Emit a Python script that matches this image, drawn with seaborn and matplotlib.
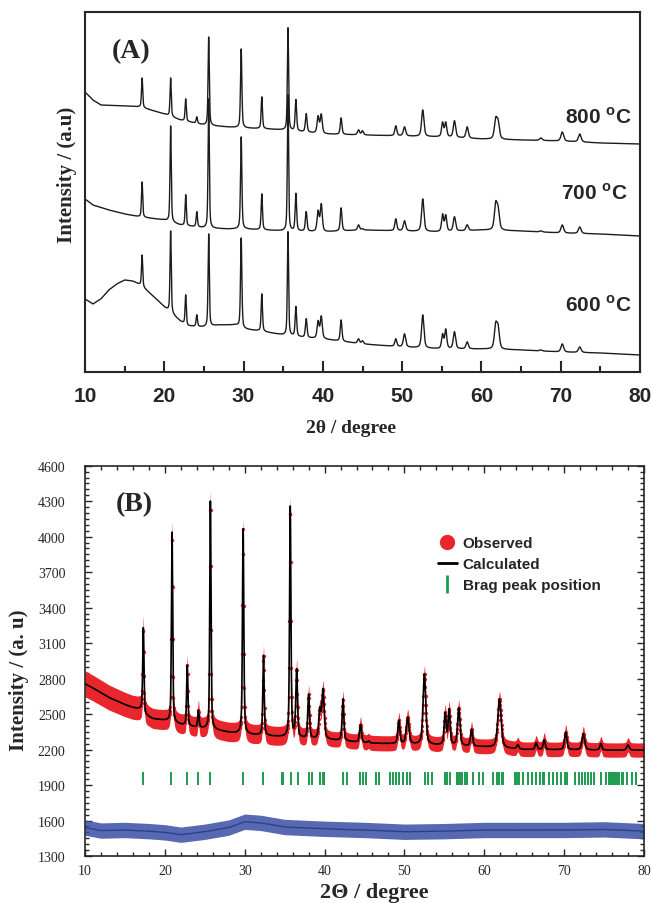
"""XRD panels: (A) calcination series 600/700/800 C, (B) Rietveld fit."""
import matplotlib

matplotlib.use("Agg")
import matplotlib.pyplot as plt
import numpy as np
import pandas as pd
import seaborn as sns
from matplotlib.lines import Line2D
from matplotlib.ticker import MultipleLocator

# ---- panel A: background anchors (2theta, a.u.) per temperature ----
bg800_x = [10, 11, 12, 15, 17, 20, 22, 25, 28, 30, 33, 35, 40, 45, 50, 55, 60, 65, 70, 75, 80]
bg800_y = [280, 272, 267, 266, 265, 258, 252, 247, 245, 244, 243, 242, 238, 237, 236, 235, 233, 232, 231, 229, 228]
bg700_x = [10, 11, 13, 15, 17, 20, 22, 25, 28, 30, 35, 40, 45, 50, 55, 60, 65, 70, 75, 80]
bg700_y = [173, 167, 162, 158, 155, 152, 147, 144, 143, 143, 141, 140, 142, 141, 140, 142, 141, 139, 138, 136]
bg600_x = [10, 11, 12, 13, 14, 15, 16, 17, 18, 19, 20, 21, 22, 23, 25, 27, 29, 30, 32, 35,
           38, 40, 45, 50, 55, 60, 65, 70, 75, 80]
bg600_y = [73, 68, 73, 82, 88, 92, 91, 87, 80, 73, 65, 58, 51, 46, 45, 47, 47, 43, 41, 37,
           34, 33, 28, 25, 23, 23, 22, 20, 19, 17]

a_pos = [17.2, 20.8, 22.7, 24.1, 25.6, 29.7, 32.3, 35.6, 36.6, 37.9, 39.4, 39.8, 42.3, 44.5,
         45.0, 49.2, 50.3, 52.6, 55.1, 55.5, 56.6, 58.2, 61.8, 62.1, 67.5, 70.2, 72.4]
a_fwhm = [0.18, 0.18, 0.18, 0.2, 0.18, 0.2, 0.2, 0.18, 0.22, 0.25, 0.3, 0.3, 0.25, 0.3,
          0.3, 0.3, 0.35, 0.35, 0.3, 0.3, 0.35, 0.35, 0.4, 0.4, 0.4, 0.4, 0.4]
top800 = [294, 294, 273, 255, 335, 323, 275, 344, 272, 258, 255, 257, 254, 242,
          241, 246, 245, 262, 249, 249, 251, 245, 251, 248, 234, 240, 238]
top700 = [190, 246, 177, 160, 273, 235, 178, 277, 178, 160, 160, 167, 164, 147,
          143, 153, 151, 173, 157, 156, 155, 147, 166, 160, 141, 147, 145]
top600 = [117, 141, 77, 57, 138, 134, 78, 140, 65, 53, 50, 55, 52, 33,
          31, 33, 38, 57, 37, 42, 40, 30, 45, 42, 22, 28, 25]
temps = ["800", "700", "600"]

# ---- panel B: Rietveld refinement (counts) ----
b_bg_x = [10, 11, 12, 13, 14, 15, 16, 17, 17.6, 18.5, 20, 22, 24, 26, 28, 30, 32, 34, 36, 38,
          40, 42, 45, 50, 55, 60, 65, 70, 75, 80]
b_bg_y = [2756, 2720, 2680, 2640, 2610, 2580, 2555, 2540, 2490, 2460, 2446, 2410, 2385, 2370,
          2345, 2330, 2320, 2310, 2300, 2290, 2285, 2275, 2255, 2245, 2235, 2222, 2200, 2198,
          2195, 2195]
b_pos = [17.3, 20.9, 22.8, 24.2, 25.7, 29.8, 32.35, 35.7, 36.5, 38.0, 39.4, 39.8, 42.3, 44.5,
         45.5, 49.3, 50.4, 52.5, 55.1, 55.6, 56.8, 58.4, 61.9, 64.2, 66.5, 67.5, 70.2, 72.4,
         74.6, 78.0]
b_top = [3230, 4037, 2910, 2528, 4300, 4065, 2995, 4250, 2867, 2661, 2517, 2698, 2627, 2410,
         2270, 2444, 2470, 2838, 2500, 2529, 2550, 2370, 2627, 2240, 2255, 2280, 2347, 2333,
         2250, 2240]
b_fwhm = [0.18, 0.18, 0.18, 0.2, 0.18, 0.2, 0.2, 0.2, 0.25, 0.25, 0.3, 0.35, 0.25, 0.3,
          0.3, 0.3, 0.4, 0.4, 0.3, 0.3, 0.35, 0.3, 0.5, 0.3, 0.3, 0.3, 0.35, 0.4, 0.3, 0.35]
# scatter half-width of observed points around the fit
obs_spread_x = [10, 17, 18, 35, 40, 80]
obs_spread = [110, 100, 85, 80, 65, 60]
# difference curve (obs - calc, offset)
diff_x = [10, 12, 15, 18, 20, 22, 25, 28, 30, 32, 35, 40, 45, 50, 55, 60, 65, 70, 75, 80]
diff_mid = [1540, 1515, 1520, 1510, 1500, 1480, 1505, 1540, 1590, 1580, 1545, 1530, 1520,
            1505, 1510, 1520, 1520, 1520, 1525, 1510]
diff_spread = 65
bragg = [17.22, 20.77, 22.81, 24.11, 25.65, 29.82, 32.33, 34.62, 34.83, 35.75, 36.71, 38.09,
         38.42, 39.42, 39.76, 39.96, 42.34, 42.76, 44.43, 44.84, 45.18, 46.43, 46.85, 48.18,
         48.6, 48.94, 49.35, 49.85, 50.28, 50.69, 52.57, 52.98, 53.41, 55.07, 55.36, 55.7,
         56.53, 56.74, 56.95, 57.16, 57.58, 57.79, 58.62, 59.33, 59.79, 61.12, 61.54, 61.87,
         62.17, 62.37, 63.84, 64.12, 64.37, 64.8, 65.45, 66.0, 66.5, 67.0, 67.3, 67.5, 68.05,
         68.6, 69.1, 69.6, 70.1, 70.4, 71.4, 71.8, 72.2, 72.6, 73.0, 73.4, 73.8, 74.6, 75.3,
         75.6, 75.9, 76.1, 76.4, 76.6, 76.9, 77.2, 77.4, 77.9, 78.5, 79.0]
b_yticks = [1300, 1600, 1900, 2200, 2500, 2800, 3100, 3400, 3700, 4000, 4300, 4600]


def pattern(x, pos, top, fwhm, bg_x, bg_y):
    y = np.interp(x, bg_x, bg_y)
    for p, t, w in zip(pos, top, fwhm):
        amp = t - np.interp(p, bg_x, bg_y)
        u = (x - p) / (w / 2)
        y = y + amp * (0.5 / (1 + u ** 2) + 0.5 * np.exp(-np.log(2) * u ** 2))
    return y


sns.set_theme(style="ticks")
plt.rcParams["font.family"] = ["Liberation Serif", "DejaVu Serif"]
plt.rcParams["axes.linewidth"] = 1.5
NARROW = ["Liberation Sans Narrow", "Liberation Sans", "DejaVu Sans"]

tt = np.arange(10, 80.0001, 0.01)
fig = plt.figure(figsize=(6.51, 9.04), dpi=100)

# ---------------- (A) ----------------
axA = fig.add_axes([85 / 651, 1 - 373 / 904, 555 / 651, 360 / 904])
curves = {
    "800": pattern(tt, a_pos, top800, a_fwhm, bg800_x, bg800_y),
    "700": pattern(tt, a_pos, top700, a_fwhm, bg700_x, bg700_y),
    "600": pattern(tt, a_pos, top600, a_fwhm, bg600_x, bg600_y),
}
dfA = pd.concat([pd.DataFrame({"two_theta": tt, "I": curves[k], "T": k}) for k in temps])
sns.lineplot(data=dfA, x="two_theta", y="I", units="T", estimator=None, color="#1c1c1c",
             lw=1.0, ax=axA)
axA.set_xlim(10, 80)
axA.set_ylim(0, 360)
axA.set_yticks([])
axA.xaxis.set_major_locator(MultipleLocator(10))
axA.xaxis.set_minor_locator(MultipleLocator(5))
axA.tick_params(axis="x", which="both", direction="in", width=1.5, pad=10)
axA.tick_params(axis="x", which="major", length=8)
axA.tick_params(axis="x", which="minor", length=4)
for lbl in axA.get_xticklabels():
    lbl.set_fontfamily(NARROW)
    lbl.set_fontweight("bold")
    lbl.set_fontsize(15)
for s in axA.spines.values():
    s.set_visible(True)
    s.set_linewidth(1.5)
axA.set_xlabel("2θ / degree", fontsize=14, fontweight="bold")
axA.xaxis.set_label_coords(0.479, -0.13)
axA.set_ylabel("Intensity / (a.u)", fontsize=15, fontweight="bold")
axA.yaxis.set_label_coords(-0.015, 0.55)
for k, (xr, yr) in zip(temps, [(0.9856, 0.711), (0.978, 0.5), (0.9856, 0.189)]):
    axA.text(xr, yr, k + " $^\\mathregular{o}$C", transform=axA.transAxes, ha="right",
             va="center", fontsize=15, fontweight="bold", family=NARROW)
axA.text(0.084, 0.892, "(A)", transform=axA.transAxes, ha="center", va="center",
         fontsize=20, fontweight="bold")

# ---------------- (B) ----------------
axB = fig.add_axes([85 / 651, 1 - 857 / 904, 559 / 651, 390.3 / 904])
calc = pattern(tt, b_pos, b_top, b_fwhm, b_bg_x, b_bg_y)
spread = np.interp(tt, obs_spread_x, obs_spread)
red = "#e8262b"
axB.fill_between(tt, calc - spread, calc + spread, color=red, lw=0)
sns.scatterplot(x=tt[::4], y=calc[::4], color=red, s=6, linewidth=0, ax=axB)
sns.lineplot(x=tt, y=calc, color="black", lw=1.2, ax=axB)
axB.vlines(bragg, 1900, 2010, color="#1e9b50", lw=1.4)
dmid = np.interp(tt, diff_x, diff_mid)
axB.fill_between(tt, dmid - diff_spread, dmid + diff_spread, color="#3a4fa3", lw=0, alpha=0.85)
sns.lineplot(x=tt, y=dmid, color="#2e3f8f", lw=1.0, ax=axB)

axB.set_xlim(10, 80)
axB.set_ylim(1300, 4600)
axB.xaxis.set_major_locator(MultipleLocator(10))
axB.xaxis.set_minor_locator(MultipleLocator(2))
axB.set_yticks(b_yticks)
axB.yaxis.set_minor_locator(MultipleLocator(50))
axB.tick_params(which="both", direction="in", top=True, right=True, width=1.0,
                labelsize=10)
axB.tick_params(which="major", length=5)
axB.tick_params(which="minor", length=3)
axB.tick_params(axis="x", pad=6)
axB.tick_params(axis="y", pad=14)
for s in axB.spines.values():
    s.set_visible(True)
    s.set_linewidth(1.2)
axB.set_xlabel("2Θ / degree", fontsize=16, fontweight="bold")
axB.xaxis.set_label_coords(0.517, -0.066)
axB.set_ylabel("Intensity / (a. u)", fontsize=15, fontweight="bold")
axB.yaxis.set_label_coords(-0.1, 0.453)
axB.text(0.089, 0.904, "(B)", transform=axB.transAxes, ha="center", va="center",
         fontsize=20, fontweight="bold")

handles = [
    Line2D([], [], ls="none", marker="o", ms=10, color=red, mec=red),
    Line2D([], [], color="black", lw=2),
    Line2D([], [], ls="none", marker="|", ms=13, mew=2, color="#1e9b50"),
]
fig.legend(handles, ["Observed", "Calculated", "Brag peak position"],
           loc="upper left", bbox_to_anchor=(0.652, 0.421), frameon=False,
           prop={"family": ["Liberation Sans", "DejaVu Sans"], "weight": "bold", "size": 11},
           handlelength=1.2, handletextpad=0.4, labelspacing=0.45, borderpad=0.4)

fig.savefig("out.png", dpi=100)
